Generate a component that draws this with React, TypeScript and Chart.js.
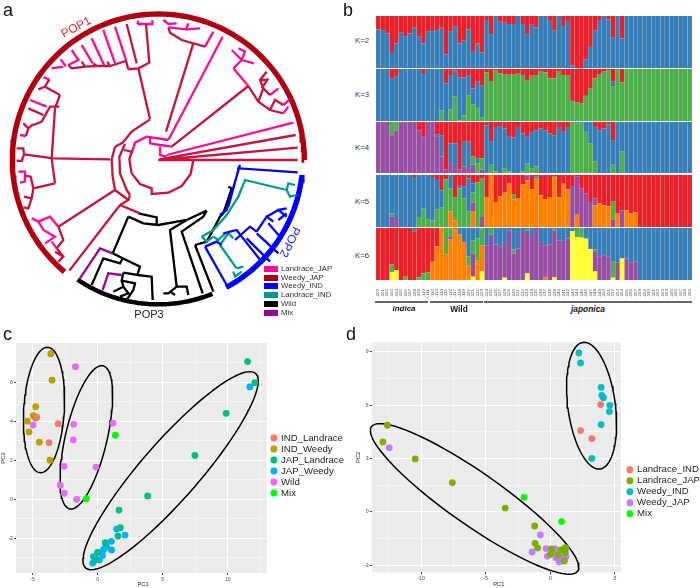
import React, { useEffect, useRef } from "react";
import { Chart, registerables } from "chart.js";

Chart.register(...registerables);

const SANS = "'Liberation Sans', Arial, sans-serif";

// ---------- Panel a: tree, in the tree's own coordinates ----------
const treeWeedyJap = [
  [[475,480],[893,480]],[[475,480],[893,443]],[[478,478],[887,405]],
  [[580,480],[572,522],[545,558],[505,578],[455,582],[455,565],[420,552],[395,520],[388,478],[395,455],[372,450]],
  [[375,432],[358,470],[360,520],[380,570],[390,585]],
  [[345,440],[368,428],[395,395],[450,358]],
  [[345,440],[335,478],[338,530],[345,570]],
  [[330,478],[160,475]],[[345,570],[175,680]],[[345,570],[385,600],[360,615]],[[360,615],[420,640]],[[360,615],[208,812]],[[385,600],[390,585]],
  [[450,358],[415,205]],[[385,208],[415,205],[448,188],[438,72]],
  [[498,395],[580,130]],[[515,440],[745,258]],
  [[160,400],[155,475],[165,550]],[[160,475],[72,463]],[[50,445],[70,445],[72,463],[65,483],[50,482]],
  [[180,285],[165,325],[160,400]],[[180,285],[135,260],[115,268]],[[135,260],[148,238]],
  [[178,320],[150,320],[125,365],[100,375]],[[85,325],[130,345]],[[100,372],[85,385],[70,370]],[[85,385],[78,408]],
  [[165,550],[100,565],[92,530],[75,527]],[[100,565],[95,595],[72,590]],[[95,595],[85,625],[70,622]],
  [[175,680],[190,720],[170,745]],[[170,745],[190,770],[175,785]],[[190,770],[165,755]],
  [[380,72],[410,190]],[[385,208],[378,183],[330,198],[322,185]],[[330,198],[290,198],[280,190]],[[290,198],[255,200],[245,185]],[[255,200],[215,205],[205,195]],
  [[580,130],[545,120],[510,98],[505,82]],[[545,120],[615,140]],
  [[745,258],[775,305],[810,330],[850,340]],[[775,305],[790,265],[810,285]],[[790,265],[780,240],[800,215]],[[780,240],[800,240]],[[810,330],[825,300],[850,315]],[[785,265],[805,235]],
];
const treeLandraceJap = [
  [[505,420],[668,110]],[[500,465],[880,368]],
  [[395,460],[405,428],[440,410],[505,420]],[[450,415],[450,430],[480,435],[515,440]],[[480,440],[480,465],[500,470]],
  [[345,80],[378,180]],[[310,90],[345,190]],[[275,115],[312,195]],[[245,135],[278,190]],[[215,150],[235,180],[205,195]],[[182,178],[198,200]],[[155,205],[190,200]],
  [[412,72],[415,62]],[[412,72],[457,72],[457,60]],
  [[490,60],[505,72],[530,70]],[[505,82],[558,88],[565,70]],[[558,88],[600,85]],[[615,140],[640,95]],
  [[90,300],[140,320]],[[130,232],[148,238]],[[60,405],[78,408]],[[55,515],[75,515],[75,527],[75,545],[60,548]],
  [[175,680],[150,650],[115,665],[95,655]],[[115,665],[130,690],[165,710],[135,730]],[[155,725],[170,745]],
  [[700,205],[725,180],[710,165],[695,150]],[[725,180],[735,155],[715,145]],[[700,205],[745,258]],[[725,180],[762,190]],
  [[810,285],[835,265]],[[850,315],[868,300]],[[850,340],[865,320]],
];
const treeWeedyInd = [
  [[720,495],[715,505],[893,517]],[[720,495],[680,630],[660,645]],[[715,510],[685,620]],
  [[615,740],[680,855]],[[615,740],[650,725],[665,735]],
  [[670,700],[710,690],[725,710],[785,785]],[[705,720],[750,680],[770,695]],[[740,715],[810,785]],
  [[770,695],[800,650],[820,665]],[[770,700],[835,760]],[[800,650],[835,630],[860,650]],[[805,670],[840,710]],[[835,630],[860,625]],[[835,660],[860,640]],
];
const treeLandraceInd = [
  [[605,710],[640,690],[680,645],[715,590],[735,540],[860,570]],[[860,570],[865,550],[885,555]],[[860,570],[870,590],[890,585]],
  [[605,710],[620,725],[640,710]],[[640,710],[655,720],[675,700]],[[660,735],[685,700],[700,715]],[[660,735],[710,805]],[[710,805],[730,800]],[[700,815],[705,830],[725,815]],
];
const treeWild = [
  [[385,650],[430,670],[475,675],[560,660],[620,632]],[[415,640],[470,652],[470,675]],[[385,650],[338,760]],
  [[338,760],[368,775],[360,790],[310,775],[275,855]],[[368,775],[420,800],[412,825],[370,818]],
  [[412,825],[455,830],[458,900]],[[370,818],[365,842],[405,850],[400,870],[380,900]],[[365,842],[370,860],[340,875]],[[370,860],[385,880],[360,890]],
  [[560,660],[510,690],[530,860]],[[530,860],[560,860],[565,885]],[[530,860],[505,880],[490,880]],[[510,875],[525,885]],
  [[620,632],[610,650],[545,695],[608,880]],[[585,735],[640,875]],[[585,735],[620,725],[660,650],[670,640],[695,565],[685,560]],
];
const treeMix = [
  [[338,760],[300,745],[240,835]],[[365,825],[325,820],[308,870]],
];
// [radius, start angle, end angle], degrees anticlockwise from east
const rimPop1 = [438, 0, 231];
const rimPop2 = [433, 298, 355];
const rimPop3 = [433, 236, 292];
const treeCentre = [475, 480];
const treeLegendNames = ["Landrace_JAP", "Weedy_JAP", "Weedy_IND", "Landrace_IND", "Wild", "Mix"];
const treeLegendColors = ["#ff0a96", "#b00010", "#0000ff", "#009b8f", "#000000", "#990099"];

// ---------- Panel b: ancestry bars ----------
const groupNames = ["indica", "Wild", "japonica"];
const sampleLabels = Array.from({ length: 70 }, (_, i) => (i < 12 ? "IND-" + (100 + i) : i < 24 ? "WLD-" + (100 + i) : "JAP-" + (100 + i)));

const k2Red = [40,42,52,110,82,50,60,52,35,62, 82,45,45,42,35,114,47,30,82,72, 40,107,82,109,12,54,0,17,20,24, 24,0,24,54,24,34,0,0,12,44, 0,30,12,147,155,155,130,92,44,12, 0,10,65,0,67];

const k3Red = [0,0,0,29,21,0,0,0,0,0, 15,0,0,0,0,43,18,5,26,25, 18,58,38,50,10,38,3,13,15,17, 17,12,18,35,20,20,8,10,28,28, 8,20,18,95,100,103,80,57,28,15, 8,5,38,0,40];
const k3Blue = [155,155,155,126,134,155,155,155,155,155, 140,155,155,155,123,112,103,76,127,113, 60,47,78,95,0,0,0,0,0,0, 0,0,0,0,0,0,0,0,0,0, 0,0,0,0,0,0,0,0,0,0, 0,0,13];

const k4Red = [0,0,0,0,0,0,0,0,0,25, 45,0,0,37,40,145,65,65,145,60, 60,105,110,110,10,58,15,12,20,45, 47,15,35,45,30,25,20,25,35,40, 15,30,15,0,0,0,0,0,15,25, 20,8,55,0,0];
const k4Purple = [155,155,155,115,128,155,155,155,155,130, 110,155,155,112,50,10,30,15,10,20, 15,25,0,10];
const k4Green = [0,0,0,40,27,0,0,0,0,0, 0,0,0,0,0,0,0,0,0,0, 0,25,30,35,0,25,5,0,15,5, 0,0,5,30,15,20,0,0,0,0, 0,0,0,155,150,155,125,90,35,0, 0,0,25,0,65];

const k5Orange = [0,0,0,0,0,0,0,0,0,0, 0,0,0,0,0,0,47,20,0,0, 0,48,0,0,90,156,73,92,103,130, 83,85,128,140,113,145,95,83,90,150, 89,130,113,0,37,0,0,0,65,72, 65,62,0,40,0,50,42,44];
const k5Purple = [0,0,0,32,24,0,0,0,0,0, 0,0,0,0,0,0,0,0,0,0, 0,25,0,30,0,0,0,0,0,0, 0,0,0,15,0,0,0,0,0,0, 0,0,0,123,115,115,101,75,20,0, 0,0,23,0,50];
const k5Green = [0,0,0,8,0,0,0,0,0,30, 55,22,20,52,58,143,68,68,116,86, 46,30,134,115,0,0,0,0,0,0, 14,0,0,0,0,0,0,0,0,3, 0,0,0,0,0,0,0,0,0,0, 0,0,55];
const k5Blue = [156,156,156,116,132,156,156,156,150,126, 101,134,130,92,52,0,41,0,10,35, 100,28,0,0,0,0,0,0,0,0, 0,0,0,0,0,7];

const k6Yellow = [0,0,0,23,30,0,0,0,0,0, 0,0,0,0,0,0,0,0,0,0, 0,10,0,27,0,0,0,0,7,0, 0,0,0,20,0,0,0,0,0,8, 0,0,0,148,130,128,125,93,27,0, 0,0,7,0,65];
const k6Orange = [0,0,0,0,0,0,0,0,0,0, 0,0,55,102,157,77,123,157,137,113, 43,0,60,78,0,0,0,0,0,0, 0,0,0,0,0,0,0,8];
const k6Purple = [0,0,0,0,0,0,0,0,0,0, 0,0,0,0,0,0,9,0,0,0, 0,70,0,0,105,137,107,100,105,150, 80,95,145,128,130,157,112,97,108,140, 120,118,125,0,0,0,0,0,60,72, 75,70,0,52,0,65,52,55];
const k6Green = [0,0,0,24,0,0,12,0,0,8, 20,23,0,0,0,80,25,0,0,0, 28,40,65,50,0,20,0,0,0,0, 13,0,0,6,0,0,0,0,0,4, 0,0,0,0,24,27,0,0,5,0, 0,0,48];
const k6Red = [157,157,157,110,127,157,145,157,147,149, 137,134,102,55];

const RED = "#e9202a", BLUE = "#377eb8", GREEN = "#4daf4a", PURPLE = "#984ea3", ORANGE = "#ff7f00", YELLOW = "#ffff33";

const pad = (a: number[]) => Array.from({ length: 70 }, (_, i) => a[i] ?? 0);
const remainder = (total: number, parts: number[][]) =>
  Array.from({ length: 70 }, (_, i) => Math.max(0, total - parts.reduce((s, p) => s + (p[i] ?? 0), 0)));

const barRows = [
  { label: "K=2", top: 16, h: 52, labelY: 40.7, max: 155, series: [[remainder(155, [k2Red]), BLUE], [k2Red, RED]] },
  { label: "K=3", top: 69, h: 52, labelY: 94.7, max: 155, series: [[remainder(155, [k3Red, k3Blue]), GREEN], [k3Blue, BLUE], [k3Red, RED]] },
  { label: "K=4", top: 122, h: 51, labelY: 148.3, max: 155, series: [[k4Purple, PURPLE], [k4Green, GREEN], [remainder(155, [k4Purple, k4Green, k4Red]), BLUE], [k4Red, RED]] },
  { label: "K=5", top: 175, h: 52, labelY: 201.7, max: 156, series: [[k5Orange, ORANGE], [k5Purple, PURPLE], [k5Green, GREEN], [k5Blue, BLUE], [remainder(156, [k5Orange, k5Purple, k5Green, k5Blue]), RED]] },
  { label: "K=6", top: 228, h: 52, labelY: 256, max: 157, series: [[k6Yellow, YELLOW], [k6Orange, ORANGE], [k6Purple, PURPLE], [k6Green, GREEN], [k6Red, RED], [remainder(157, [k6Yellow, k6Orange, k6Purple, k6Green, k6Red]), BLUE]] },
];

// ---------- Panel c: PCA ----------
const cIndLandrace = [[-4.68,4.2],[-3.04,3.87],[-3.73,2.9]];
const cIndWeedy = [[-3.6,7.45],[-3.5,6.1],[-4.76,4.74],[-4.94,4.28],[-4.76,4.15],[-5.4,4.0],[-5.27,3.45],[-4.48,2.92],[-3.66,2.0]];
const cJapLandrace = [[11.51,7.05],[12.07,5.97],[9.87,4.4],[7.47,2.25],[3.84,0.17],[1.64,-0.55],[1.74,-1.45],[1.56,-1.88],[0.59,-2.22],[0,-2.71],[-0.2,-3.1]];
const cJapWeedy = [[11.69,5.75],[1.46,-1.52],[2.1,-1.83],[1.05,-2.15],[0.69,-2.42],[1.07,-2.59],[0.43,-2.59],[0.38,-2.88],[0.13,-3.1],[-0.33,-2.93],[-0.2,-2.97],[-0.38,-3.26],[0.56,-2.5]];
const cWild = [[-1.71,6.79],[-1.84,3.84],[-4.96,3.8],[1.18,3.9],[-1.87,3.04],[-2.58,1.69],[-0.13,1.65],[-2.87,0.72],[-2.56,0.31],[-1.61,0]];
const cMix = [[1.36,3.28],[-0.87,0.03]];
// centre, then two conjugate half-diameters
const cEllipses = [
  [-4.12,4.57,0.256,3.21,1.56,0],
  [-0.87,3.17,1.18,3.67,1.64,0],
  [5.6,1.465,6.09,5.07,2.87,0],
];
const cXMajor = [-5,0,5,10], cXMinor = [-2.5,2.5,7.5,12.5];
const cYMajor = [-2,0,2,4,6], cYMinor = [-3,-1,1,3,5,7];

// ---------- Panel d: PCA ----------
const dLandraceInd = [[3.9,6.03],[2.34,4.57],[3.21,4.12]];
const dLandraceJap = [[-12.61,4.87],[-12.95,3.93],[-10.45,2.98],[-7.58,1.65],[-3.49,0.22],[-1.21,-0.79],[-1.18,-1.76],[-0.98,-2.02],[0.1,-2.08],[0.82,-2.13],[1.16,-2.0],[0,-2.38],[1.16,-2.27],[1.08,-2.75],[0.57,-2.42]];
const dWeedyInd = [[2.21,8.93],[2.34,8.37],[3.93,7.0],[3.98,6.55],[4.11,6.42],[4.6,5.99],[4.57,5.64],[3.93,4.91],[3.21,3.01]];
const dWeedyJap = [[-12.46,3.61],[-0.77,-1.29],[-1.41,-2.25],[-0.33,-2.06],[-0.23,-2.49],[0.36,-2.08],[0.13,-2.27],[0.05,-2.36],[1.21,-2.04],[0.44,-2.57],[0.69,-2.51],[0.87,-2.51],[0.69,-2.81],[1.21,-2.51],[0.44,-2.38]];
const dMix = [[-2.03,0.82],[0.87,-0.54]];
const dEllipses = [
  [3.19,5.97,-0.565,3.56,1.85,0],
  [-5.86,0.73,-7.32,4.23,3.39,0],
];
const dXMajor = [-10,-5,0,5], dXMinor = [-12.5,-7.5,-2.5,2.5];
const dYMajor = [-3,0,3,6,9], dYMinor = [-1.5,1.5,4.5,7.5];

// ---------- helpers ----------
const segs = (paths: number[][][]) =>
  paths.flatMap((p) => [...p.map(([x, y]) => ({ x, y })), { x: NaN, y: NaN }]);

const rim = ([r, a0, a1]: number[]) => {
  const pts = [];
  for (let a = a0; a <= a1 + 0.01; a += 2) {
    const t = (a * Math.PI) / 180;
    pts.push({ x: treeCentre[0] + r * Math.cos(t), y: treeCentre[1] - r * Math.sin(t) });
  }
  return pts;
};

const ellipse = ([cx, cy, ux, uy, vx, vy]: number[]) => {
  const pts = [];
  for (let a = 0; a <= 360; a += 4) {
    const t = (a * Math.PI) / 180;
    pts.push({ x: cx + ux * Math.cos(t) + vx * Math.sin(t), y: cy + uy * Math.cos(t) + vy * Math.sin(t) });
  }
  return pts;
};

const treeLine = (data: any[], color: string, width = 2.3) => ({
  data, borderColor: color, backgroundColor: color, showLine: true, pointRadius: 0, borderWidth: width,
  spanGaps: false, clip: false, borderCapStyle: "butt", borderJoinStyle: "miter",
});

const treeConfig = () => ({
  type: "scatter",
  data: {
    datasets: [
      treeLine(segs(treeWeedyJap), "#c8143c"),
      treeLine(segs(treeLandraceJap), "#ff0a96"),
      treeLine(segs(treeWeedyInd), "#0000ff"),
      treeLine(segs(treeLandraceInd), "#009b8f"),
      treeLine(segs(treeWild), "#000000"),
      treeLine(segs(treeMix), "#990099"),
      treeLine(rim(rimPop1), "#b00010", 5.4),
      treeLine(rim(rimPop2), "#0000ff", 5.4),
      treeLine(rim(rimPop3), "#000000", 4.5),
    ],
  },
  options: {
    responsive: false, animation: false, events: [],
    layout: { padding: 0 },
    plugins: { legend: { display: false }, tooltip: { enabled: false } },
    scales: {
      x: { type: "linear", display: false, min: 0, max: 1020 },
      y: { type: "linear", display: false, min: 0, max: 960, reverse: true },
    },
  },
});

const barConfig = (row: any, withLabels: boolean) => ({
  type: "bar",
  data: {
    labels: sampleLabels,
    datasets: row.series.map(([values, color]: any) => ({
      data: pad(values), backgroundColor: color, borderWidth: 0, barPercentage: 0.97, categoryPercentage: 1,
    })),
  },
  options: {
    responsive: false, animation: false, events: [],
    layout: { padding: 0 },
    plugins: { legend: { display: false }, tooltip: { enabled: false } },
    scales: {
      x: {
        stacked: true, display: withLabels,
        grid: { display: false }, border: { display: false },
        ticks: { autoSkip: false, minRotation: 90, maxRotation: 90, font: { size: 4.4, family: SANS }, color: "#555", padding: 1 },
        afterFit: (s: any) => { if (withLabels) { s.height = 18; s.paddingLeft = 0; s.paddingRight = 0; } },
      },
      y: { stacked: true, display: false, min: 0, max: row.max },
    },
  },
});

const panelBg = {
  id: "panelBg",
  beforeDraw(chart: any, _a: any, opts: any) {
    const { ctx, chartArea: c, scales } = chart;
    ctx.save();
    ctx.fillStyle = "#ebebeb";
    ctx.fillRect(c.left, c.top, scales.x.getPixelForValue(opts.xEnd) - c.left, c.bottom - c.top);
    ctx.fillStyle = "#f2f2f2";
    for (const h of chart.legend?.legendHitBoxes ?? []) ctx.fillRect(h.left - 1, h.top, 10, h.height);
    ctx.restore();
  },
};

const axis = (title: string, major: number[], minor: number[], min: number, max: number, fit: (s: any) => void) => ({
  type: "linear", min, max,
  afterBuildTicks: (s: any) => { s.ticks = [...minor, ...major].sort((a, b) => a - b).map((value) => ({ value })); },
  afterFit: fit,
  border: { display: false },
  grid: {
    color: "#ffffff", tickLength: 2,
    lineWidth: (c: any) => (major.includes(c.tick?.value) ? 1 : 0.45),
    tickColor: (c: any) => (major.includes(c.tick?.value) ? "#444" : "rgba(0,0,0,0)"),
  },
  ticks: {
    autoSkip: false, maxRotation: 0, padding: 1, color: "#4d4d4d", font: { size: 5.2, family: SANS },
    callback: (v: number) => (major.includes(v) ? String(v) : ""),
  },
  title: { display: true, text: title, color: "#222", font: { size: 5.8, family: SANS }, padding: 0 },
});

const pcaConfig = (groups: any[], ellipses: number[][], o: any) => ({
  type: "scatter",
  data: {
    datasets: [
      ...groups.map(([label, pts, color]) => ({
        label, data: pts.map(([x, y]: number[]) => ({ x, y })), backgroundColor: color,
        pointRadius: 3.4, pointBorderWidth: 0, borderWidth: 0, pointStyle: "circle", clip: false,
      })),
      ...ellipses.map((e, i) => ({
        label: "Ellipse " + (i + 1), data: ellipse(e), showLine: true, pointRadius: 0,
        borderColor: "#000", borderWidth: 1.5, clip: false,
      })),
    ],
  },
  options: {
    responsive: false, animation: false, events: [],
    layout: { padding: { top: o.top } },
    plugins: {
      panelBg: { xEnd: o.xEnd },
      tooltip: { enabled: false },
      legend: {
        position: "right",
        title: { display: o.legendShift > 0, text: " ", font: { size: 1 }, padding: { top: o.legendShift, bottom: 0 } },
        labels: {
          usePointStyle: true, boxHeight: 4.8, boxWidth: 4.8, padding: 1.4, color: "#222",
          font: { size: 9.6, family: SANS },
          filter: (item: any) => !item.text.startsWith("Ellipse"),
        },
      },
    },
    scales: {
      x: axis("PC1", o.xMajor, o.xMinor, o.xMin, o.xMax, (s: any) => { s.height = o.xH; }),
      y: axis("PC2", o.yMajor, o.yMinor, o.yMin, o.yMax, (s: any) => { s.width = o.yW; }),
    },
  },
  plugins: [panelBg],
});

const canvases = [
  { left: 0, top: 0, w: 340, h: 320, cfg: treeConfig },
  ...barRows.map((row, i) => ({
    left: 376, top: row.top, w: 316, h: i === 4 ? row.h + 18 : row.h,
    cfg: () => barConfig(row, i === 4),
  })),
  {
    left: 0, top: 325, w: 354, h: 263,
    cfg: () => pcaConfig(
      [["IND_Landrace", cIndLandrace, "#F8766D"], ["IND_Weedy", cIndWeedy, "#B79F00"], ["JAP_Landrace", cJapLandrace, "#00BF7D"], ["JAP_Weedy", cJapWeedy, "#00B0F6"], ["Wild", cWild, "#E76BF3"], ["Mix", cMix, "#00FF00"]],
      cEllipses,
      { top: 18, xEnd: 12.99, xMin: -6.27, xMax: 13.24, yMin: -3.77, yMax: 8.0, xMajor: cXMajor, xMinor: cXMinor, yMajor: cYMajor, yMinor: cYMinor, xH: 15, yW: 16, legendShift: 0 },
    ),
  },
  {
    left: 355, top: 325, w: 355, h: 263,
    cfg: () => pcaConfig(
      [["Landrace_IND", dLandraceInd, "#F8766D"], ["Landrace_JAP", dLandraceJap, "#7CAE00"], ["Weedy_IND", dWeedyInd, "#00BFC4"], ["Weedy_JAP", dWeedyJap, "#C77CFF"], ["Mix", dMix, "#00FF00"]],
      dEllipses,
      { top: 17.3, xEnd: 5.45, xMin: -13.82, xMax: 5.86, yMin: -3.39, yMax: 9.53, xMajor: dXMajor, xMinor: dXMinor, yMajor: dYMajor, yMinor: dYMinor, xH: 15.7, yW: 16.7, legendShift: 52 },
    ),
  },
];

const abs = (left: number, top: number, extra: any = {}) => ({ position: "absolute", left, top, fontFamily: SANS, whiteSpace: "nowrap", lineHeight: 1, ...extra });

export default function App() {
  const refs = useRef<(HTMLCanvasElement | null)[]>([]);
  useEffect(() => {
    const charts = canvases.map((c, i) => new Chart(refs.current[i] as any, c.cfg() as any));
    return () => charts.forEach((c) => c.destroy());
  }, []);
  return (
    <div style={{ position: "absolute", left: 0, top: 0, width: 700, height: 588, overflow: "hidden", background: "#fff" } as any}>
      {canvases.map((c, i) => (
        <canvas key={i} ref={(el) => { refs.current[i] = el; }} width={c.w} height={c.h}
          style={{ position: "absolute", left: c.left, top: c.top, width: c.w, height: c.h }} />
      ))}
      <div style={abs(3, 1, { fontSize: 18, color: "#111" }) as any}>a</div>
      <div style={abs(343, 1, { fontSize: 18, color: "#111" }) as any}>b</div>
      <div style={abs(3, 325, { fontSize: 18, color: "#111" }) as any}>c</div>
      <div style={abs(346, 325, { fontSize: 18, color: "#111" }) as any}>d</div>

      <div style={abs(76, 27, { fontSize: 12, color: "#e8262d", transform: "translate(-50%,-50%) rotate(-28deg)" }) as any}>POP1</div>
      <div style={abs(290, 242, { fontSize: 12, color: "#2020f0", transform: "translate(-50%,-50%) rotate(116deg)" }) as any}>POP2</div>
      <div style={abs(149, 314, { fontSize: 11, color: "#222", transform: "translate(-50%,-50%)" }) as any}>POP3</div>
      {treeLegendNames.map((name, i) => (
        <React.Fragment key={name}>
          <div style={{ position: "absolute", left: 264, top: 266 + i * 8.7, width: 14, height: 6, background: treeLegendColors[i] }} />
          <div style={abs(281, 265 + i * 8.7, { fontSize: 7.8, color: "#333" }) as any}>{name}</div>
        </React.Fragment>
      ))}

      {barRows.map((r) => (
        <div key={r.label} style={abs(355, r.labelY, { fontSize: 7.8, color: "#333", transform: "translateY(-50%)" }) as any}>{r.label}</div>
      ))}
      <div style={{ position: "absolute", left: 375, top: 301, width: 53, height: 2, background: "#666" }} />
      <div style={{ position: "absolute", left: 430, top: 301, width: 53, height: 2, background: "#666" }} />
      <div style={{ position: "absolute", left: 484, top: 301, width: 208, height: 2, background: "#666" }} />
      <div style={abs(404, 308.5, { fontSize: 8, fontWeight: "bold", fontStyle: "italic", color: "#111", transform: "translate(-50%,-50%)" }) as any}>{groupNames[0]}</div>
      <div style={abs(459, 308.5, { fontSize: 8.4, fontWeight: "bold", color: "#111", transform: "translate(-50%,-50%)" }) as any}>{groupNames[1]}</div>
      <div style={abs(588, 308.5, { fontSize: 8.4, fontWeight: "bold", fontStyle: "italic", color: "#111", transform: "translate(-50%,-50%)" }) as any}>{groupNames[2]}</div>
    </div>
  );
}
